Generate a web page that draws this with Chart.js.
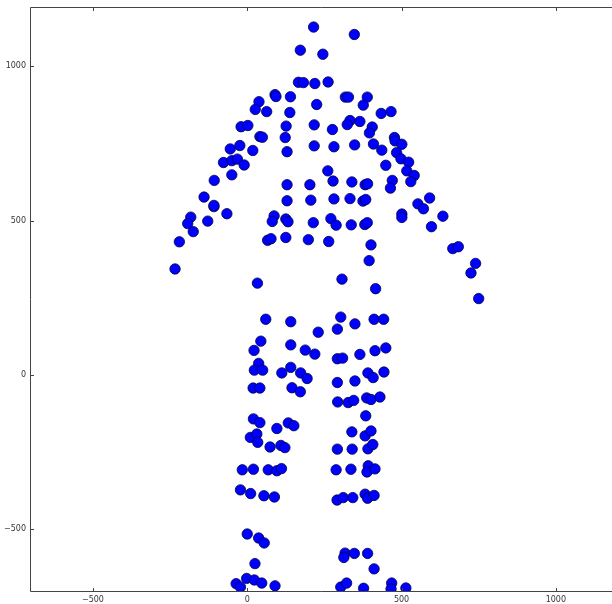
<!DOCTYPE html>
<html>
<head>
<meta charset="utf-8">
<script src="https://cdn.jsdelivr.net/npm/chart.js@4"></script>
<style>
    html, body { margin: 0; padding: 0; background: #fff; overflow: hidden; }
    #wrap { width: 612px; height: 604px; }
</style>
</head>
<body>
<div id="wrap"><canvas id="chart" width="612" height="604"></canvas></div>
<script>
// axis setup (the right edge of the box falls just outside the picture)
const xRange = [-704, 1182];
const yRange = [-704, 1192];
const xTicks = [-500, 0, 500, 1000];
const yTicks = [-500, 0, 500, 1000];

// points, grouped by body part
const headPts = [
    [215, 1127], [347, 1103], [172, 1052], [245, 1039],
    [166, 948], [182, 947], [219, 944], [262, 949],
    [140, 901], [318, 900], [328, 900], [389, 900], [225, 876], [376, 874],
    [90, 908], [93, 902], [38, 885], [26, 860], [63, 853], [138, 850],
    [434, 847], [466, 853]
];

const shoulderPts = [
    [126, 806], [217, 810], [333, 824], [324, 811], [365, 821], [276, 795],
    [405, 803], [396, 784], [123, 769], [477, 769], [479, 758], [501, 747],
    [217, 742], [281, 739], [348, 745], [409, 748], [436, 728], [129, 723],
    [484, 720], [498, 700], [523, 689], [449, 679], [261, 661],
    [-20, 804], [2, 808], [41, 772], [49, 770], [-55, 732], [-24, 743],
    [18, 727], [-77, 688], [-50, 694], [-32, 699], [-10, 680]
];

const leftArmPts = [
    [-50, 648], [-107, 630], [-140, 576], [-108, 545], [-108, 549],
    [-66, 522], [-183, 511], [-193, 490], [-128, 498], [-175, 464],
    [-220, 431], [-234, 343]
];

const rightArmPts = [
    [517, 661], [541, 646], [530, 626], [591, 573], [553, 554], [571, 538],
    [634, 514], [597, 480], [666, 409], [684, 415], [740, 361], [725, 330],
    [750, 247]
];

const torsoPts = [
    [129, 616], [129, 564], [87, 515], [81, 497], [125, 505], [132, 496],
    [66, 436], [77, 441], [125, 445], [203, 616], [278, 628], [339, 625],
    [382, 616], [390, 619], [470, 630], [464, 605], [206, 566], [281, 570],
    [333, 571], [375, 563], [384, 568], [214, 493], [271, 506], [288, 485],
    [337, 486], [381, 487], [389, 493], [501, 521], [501, 510], [198, 438],
    [264, 432], [401, 421], [395, 370], [307, 310], [416, 279], [33, 297]
];

const hipPts = [
    [60, 180], [44, 109], [22, 79], [37, 37], [23, 15], [50, 15], [112, 6],
    [19, -43], [41, -43], [141, 172], [230, 138], [303, 187], [292, 148],
    [349, 165], [411, 180], [442, 180], [141, 97], [188, 80], [219, 67],
    [292, 52], [309, 54], [365, 66], [414, 78], [449, 87], [141, 24],
    [173, 6], [194, -12], [292, -25], [349, -20], [391, 6], [408, -9],
    [443, 9], [145, -42], [172, -55], [293, -88], [327, -90], [345, -83],
    [387, -75], [401, -80], [430, -72]
];

const legPts = [
    [20, -143], [41, -155], [96, -174], [10, -203], [31, -192], [34, -219],
    [74, -234], [109, -229], [122, -236], [133, -156], [151, -165],
    [384, -133], [339, -185], [382, -198], [401, -182], [292, -241],
    [340, -241], [391, -240], [407, -226],
    [-16, -308], [20, -306], [68, -308], [96, -311], [111, -304],
    [-22, -373], [11, -385], [54, -392], [88, -396],
    [288, -308], [336, -306], [392, -295], [388, -315], [414, -305],
    [291, -406], [311, -398], [342, -398], [382, -387], [390, -400], [411, -391]
];

const feetPts = [
    [0, -516], [37, -529], [55, -545], [25, -612], [-36, -677], [-22, -688],
    [-2, -660], [23, -665], [47, -675], [90, -684],
    [317, -578], [313, -592], [347, -579], [390, -579], [411, -629],
    [303, -688], [322, -675], [377, -692], [468, -675], [466, -694], [514, -691]
];

const allPts = [].concat(headPts, shoulderPts, leftArmPts, rightArmPts, torsoPts, hipPts, legPts, feetPts)
    .map(p => ({ x: p[0], y: p[1] }));

const fmt = v => (v < 0 ? '\u2212' + Math.abs(v) : String(v));

// box frame with inward ticks, like the old matplotlib look
const framePlugin = {
    id: 'frame',
    afterDraw(chart) {
        const { ctx, chartArea: a, scales } = chart;
        ctx.save();
        ctx.strokeStyle = '#444';
        ctx.lineWidth = 1;
        ctx.beginPath();
        // left, bottom, top (right side is off the canvas)
        ctx.moveTo(a.left + 0.5, a.top + 0.5);
        ctx.lineTo(a.left + 0.5, a.bottom - 0.5);
        ctx.lineTo(a.right + 2, a.bottom - 0.5);
        ctx.moveTo(a.left + 0.5, a.top + 0.5);
        ctx.lineTo(a.right + 2, a.top + 0.5);
        const len = 4;
        xTicks.forEach(v => {
            const px = Math.round(scales.x.getPixelForValue(v)) + 0.5;
            ctx.moveTo(px, a.bottom); ctx.lineTo(px, a.bottom - len);
            ctx.moveTo(px, a.top); ctx.lineTo(px, a.top + len);
        });
        yTicks.forEach(v => {
            const py = Math.round(scales.y.getPixelForValue(v)) + 0.5;
            ctx.moveTo(a.left, py); ctx.lineTo(a.left + len, py);
        });
        ctx.stroke();
        ctx.restore();
    }
};

new Chart(document.getElementById('chart'), {
    type: 'scatter',
    data: {
        datasets: [{
            data: allPts,
            backgroundColor: '#0000ff',
            borderColor: '#000044',
            borderWidth: 0.8,
            pointRadius: 5.2,
            clip: 0
        }]
    },
    options: {
        responsive: false,
        animation: false,
        layout: { autoPadding: false, padding: { top: 7, right: 0, left: 0, bottom: 0 } },
        plugins: { legend: { display: false }, tooltip: { enabled: false } },
        scales: {
            x: {
                type: 'linear',
                min: xRange[0],
                max: xRange[1],
                grid: { display: false, drawTicks: false },
                border: { display: false },
                afterBuildTicks: s => { s.ticks = xTicks.map(v => ({ value: v })); },
                afterFit: s => { s.height = 12; s.paddingLeft = 0; s.paddingRight = 0; },
                ticks: {
                    padding: 3,
                    maxRotation: 0,
                    color: '#333',
                    font: { family: 'DejaVu Sans', size: 8 },
                    callback: fmt
                }
            },
            y: {
                type: 'linear',
                min: yRange[0],
                max: yRange[1],
                grid: { display: false, drawTicks: false },
                border: { display: false },
                afterBuildTicks: s => { s.ticks = yTicks.map(v => ({ value: v })); },
                afterFit: s => { s.width = 30; s.paddingTop = 0; s.paddingBottom = 0; },
                ticks: {
                    padding: 4,
                    color: '#333',
                    font: { family: 'DejaVu Sans', size: 8 },
                    callback: fmt
                }
            }
        }
    },
    plugins: [framePlugin]
});
</script>
</body>
</html>
